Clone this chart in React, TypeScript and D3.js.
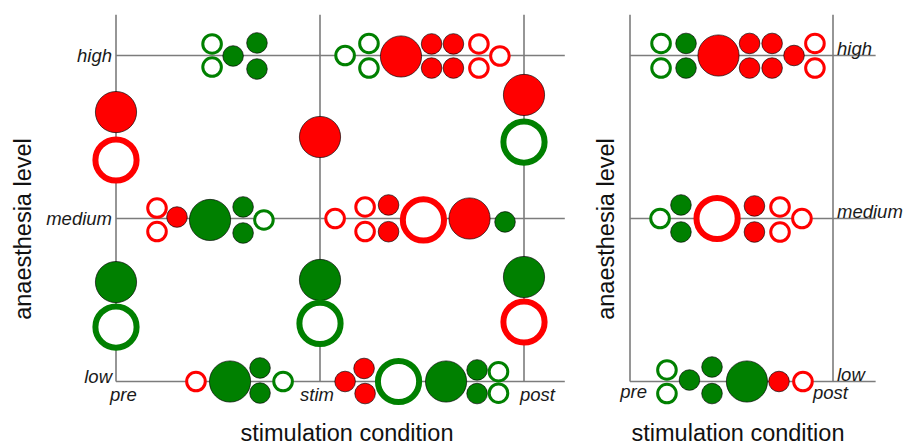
import React from "react";
import * as d3 from "d3";

const levels = ["low", "medium", "high"];
const conditionsLeft = ["pre", "stim", "post"];
const conditionsRight = ["pre", "post"];

// [condition position, level position, colour, filled(1)/open(0), size]
type Dot = [number, number, string, number, number];

const leftHigh: Dot[] = [
  [0.471, 2.071, "g", 0, 1], [0.471, 1.929, "g", 0, 1], [0.574, 1.997, "g", 1, 1],
  [0.691, 2.077, "g", 1, 1], [0.691, 1.917, "g", 1, 1],
  [1.123, 2.0, "g", 0, 1], [1.24, 2.074, "g", 0, 1], [1.24, 1.923, "g", 0, 1],
  [1.397, 1.994, "r", 1, 4], [1.547, 2.071, "r", 1, 1], [1.547, 1.923, "r", 1, 1],
  [1.654, 2.071, "r", 1, 1], [1.654, 1.923, "r", 1, 1], [1.779, 2.071, "r", 0, 1],
  [1.779, 1.923, "r", 0, 1], [1.882, 1.997, "r", 0, 1],
];

const leftMedium: Dot[] = [
  [0.201, 1.064, "r", 0, 1], [0.201, 0.92, "r", 0, 1], [0.299, 1.009, "r", 1, 1],
  [0.461, 0.991, "g", 1, 4], [0.623, 1.071, "g", 1, 1], [0.623, 0.911, "g", 1, 1],
  [0.725, 0.991, "g", 0, 1],
  [1.074, 1.0, "r", 0, 1], [1.221, 1.071, "r", 0, 1], [1.221, 0.92, "r", 0, 1],
  [1.336, 1.083, "r", 1, 1], [1.336, 0.919, "r", 1, 1], [1.507, 0.991, "r", 0, 4],
  [1.733, 1.0, "r", 1, 4], [1.907, 0.979, "g", 1, 1],
];

const leftLow: Dot[] = [
  [0.392, 0, "r", 0, 1], [0.559, 0, "g", 1, 4], [0.706, 0.083, "g", 1, 1],
  [0.706, -0.071, "g", 1, 1], [0.819, 0, "g", 0, 1],
  [1.123, 0, "r", 1, 1], [1.216, 0.08, "r", 1, 1], [1.221, -0.074, "r", 1, 1],
  [1.385, 0, "g", 0, 4], [1.618, 0, "g", 1, 4], [1.77, 0.071, "g", 1, 1],
  [1.77, -0.074, "g", 1, 1], [1.875, 0.06, "g", 0, 1], [1.875, -0.072, "g", 0, 1],
];

const leftVertical: Dot[] = [
  [0, 1.653, "r", 1, 4], [0, 1.359, "r", 0, 4], [0, 0.61, "g", 1, 4], [0, 0.334, "g", 0, 4],
  [1, 1.5, "r", 1, 4], [1, 0.623, "g", 1, 4], [1, 0.356, "g", 0, 4],
  [2, 1.758, "r", 1, 4], [2, 1.469, "g", 0, 4], [2, 0.641, "g", 1, 4], [2, 0.365, "r", 0, 4],
];

const rightHigh: Dot[] = [
  [0.153, 2.074, "g", 0, 1], [0.153, 1.923, "g", 0, 1], [0.276, 2.074, "g", 1, 1],
  [0.276, 1.923, "g", 1, 1], [0.436, 2.0, "r", 1, 4], [0.589, 2.074, "r", 1, 1],
  [0.589, 1.923, "r", 1, 1], [0.7, 2.074, "r", 1, 1], [0.7, 1.923, "r", 1, 1],
  [0.808, 2.0, "r", 1, 1], [0.911, 2.074, "r", 0, 1], [0.911, 1.923, "r", 0, 1],
];

const rightMedium: Dot[] = [
  [0.148, 1.0, "g", 0, 1], [0.251, 1.083, "g", 1, 1], [0.251, 0.917, "g", 1, 1],
  [0.429, 1.0, "r", 0, 4], [0.613, 1.077, "r", 1, 1], [0.613, 0.917, "r", 1, 1],
  [0.739, 1.071, "r", 0, 1], [0.739, 0.917, "r", 0, 1], [0.847, 1.0, "r", 0, 1],
];

const rightLow: Dot[] = [
  [0.182, 0.071, "g", 0, 1], [0.182, -0.074, "g", 0, 1], [0.293, 0.009, "g", 1, 1],
  [0.404, 0.089, "g", 1, 1], [0.404, -0.074, "g", 1, 1], [0.576, 0, "g", 1, 4],
  [0.734, 0, "r", 1, 1], [0.852, 0, "r", 0, 1],
];

const COLORS: Record<string, string> = { r: "#ff0000", g: "#008000" };
const FONT = "'Liberation Sans', Arial, Helvetica, sans-serif";

const y = d3.scaleLinear().domain([0, 2]).range([381.5, 55.5]);
const xL = d3.scaleLinear().domain([0, 2]).range([116, 524]);
const xR = d3.scaleLinear().domain([0, 1]).range([630, 833]);
const rScale = d3.scaleSqrt().domain([0, 1]).range([0, 10.3]);

function Dots({ data, x }: { data: Dot[]; x: d3.ScaleLinear<number, number> }) {
  return (
    <g>
      {data.map((d, i) => {
        const [c, l, col, filled, size] = d;
        const r = rScale(size);
        const big = size > 1;
        if (filled) {
          return (
            <circle key={i} cx={x(c)} cy={y(l)} r={r} fill={COLORS[col]}
              stroke="rgba(0,0,0,0.65)" strokeWidth={1} />
          );
        }
        const sw = big ? 6 : 3;
        return (
          <circle key={i} cx={x(c)} cy={y(l)} r={big ? r : r - 1}
            fill="#fff" stroke={COLORS[col]} strokeWidth={sw} />
        );
      })}
    </g>
  );
}

export default function App() {
  const lineColor = "#7c7c7c";
  const lw = 1.6;
  const tickStyle = { fontFamily: FONT, fontStyle: "italic", fontSize: 18.5, fill: "#1a1a1a" } as const;
  const titleStyle = { fontFamily: FONT, fontSize: 23.5, fill: "#111" } as const;
  const topL = 2.25;
  return (
    <svg width={904} height={446} style={{ position: "absolute", left: 0, top: 0, background: "#fff" }}>
      {/* left panel grid */}
      <g>
        {conditionsLeft.map((c, i) => (
          <line key={c} x1={xL(i)} x2={xL(i)} y1={y(topL)} y2={y(0)} stroke={lineColor} strokeWidth={lw} />
        ))}
        {levels.map((l, i) => (
          <line key={l} x1={xL(0)} x2={xL(2.2)} y1={y(i)} y2={y(i)} stroke={lineColor} strokeWidth={lw} />
        ))}
      </g>
      {/* right panel grid */}
      <g>
        {conditionsRight.map((c, i) => (
          <line key={c} x1={xR(i)} x2={xR(i)} y1={y(topL)} y2={y(0)} stroke={lineColor} strokeWidth={lw} />
        ))}
        {levels.map((l, i) => (
          <line key={l} x1={xR(0)} x2={xR(1.21)} y1={y(i)} y2={y(i)} stroke={lineColor} strokeWidth={lw} />
        ))}
      </g>

      <Dots data={leftHigh} x={xL} />
      <Dots data={leftMedium} x={xL} />
      <Dots data={leftLow} x={xL} />
      <Dots data={leftVertical} x={xL} />
      <Dots data={rightHigh} x={xR} />
      <Dots data={rightMedium} x={xR} />
      <Dots data={rightLow} x={xR} />

      {/* left level labels */}
      {levels.map((l, i) => (
        <text key={l} x={xL(0) - 4} y={y(i) + (i === 0 ? 1.5 : 6)} textAnchor="end" style={tickStyle}>{l}</text>
      ))}
      {/* left condition labels */}
      <text x={xL(0) - 6} y={401} textAnchor="start" style={tickStyle}>{conditionsLeft[0]}</text>
      <text x={xL(1) + 14} y={401} textAnchor="end" style={tickStyle}>{conditionsLeft[1]}</text>
      <text x={xL(2) - 4} y={401} textAnchor="start" style={tickStyle}>{conditionsLeft[2]}</text>

      {/* right level labels */}
      {levels.map((l, i) => (
        <text key={l} x={xR(1) + 4} y={y(i) - 1} textAnchor="start" style={tickStyle}>{l}</text>
      ))}
      <text x={xR(0) + 17} y={398} textAnchor="end" style={tickStyle}>{conditionsRight[0]}</text>
      <text x={xR(1) - 20} y={399} textAnchor="start" style={tickStyle}>{conditionsRight[1]}</text>

      {/* axis titles */}
      <text x={347} y={441} textAnchor="middle" style={titleStyle}>stimulation condition</text>
      <text x={738} y={441} textAnchor="middle" style={titleStyle}>stimulation condition</text>
      <text transform="translate(31,229) rotate(-90)" textAnchor="middle" style={titleStyle}>anaesthesia level</text>
      <text transform="translate(614,229) rotate(-90)" textAnchor="middle" style={titleStyle}>anaesthesia level</text>
    </svg>
  );
}
